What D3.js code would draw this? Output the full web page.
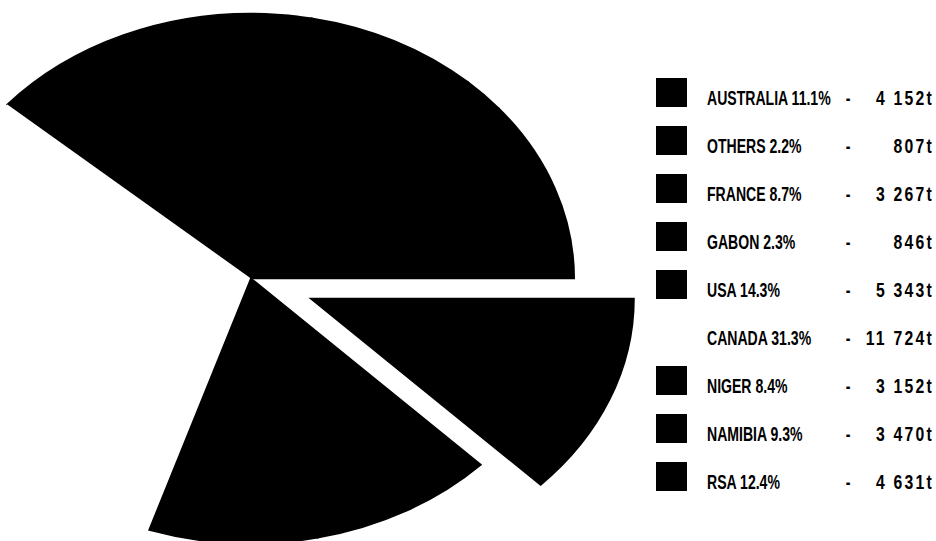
<!DOCTYPE html>
<html><head><meta charset="utf-8">
<script src="https://cdn.jsdelivr.net/npm/d3@7"></script>
<style>body{margin:0;background:#fff}svg{display:block}</style>
</head><body><svg id="chart" width="936" height="541"></svg>
<script>
// ---- data ----
const countries = ["AUSTRALIA", "OTHERS", "FRANCE", "GABON", "USA", "CANADA", "NIGER", "NAMIBIA", "RSA"];
const shares    = [11.1, 2.2, 8.7, 2.3, 14.3, 31.3, 8.4, 9.3, 12.4];
const tonnes    = ["4 152t", "807t", "3 267t", "846t", "5 343t", "11 724t", "3 152t", "3 470t", "4 631t"];
const fills     = ["#000", "#000", "#000", "#000", "#000", "#fff", "#000", "#000", "#000"];
const exploded  = ["RSA"];

const rows = countries.map((c, i) => ({ country: c, share: shares[i], tonnes: tonnes[i], fill: fills[i] }));

const svg = d3.select("#chart");

// ---- pie (scanned original is stretched horizontally) ----
const cx = 251, cy = 278.5, R = 265, sx = 1.219, explodeDist = 53;

const pie = d3.pie().sort(null).value(d => d.share)
  .startAngle(Math.PI / 2).endAngle(Math.PI / 2 - 2 * Math.PI);
const arc = d3.arc().innerRadius(0).outerRadius(R);

const pieG = svg.append("g").attr("transform", `translate(${cx},${cy}) scale(${sx},1)`);
pieG.selectAll("path").data(pie(rows)).join("path")
  .attr("d", arc)
  .attr("fill", d => d.data.fill)
  .attr("stroke", d => d.data.fill === "#fff" ? "none" : d.data.fill)
  .attr("stroke-width", 1.6)
  .attr("stroke-linejoin", "miter")
  .attr("transform", d => {
    if (!exploded.includes(d.data.country)) return null;
    const m = (d.startAngle + d.endAngle) / 2;
    return `translate(${Math.sin(m) * explodeDist},${-Math.cos(m) * explodeDist})`;
  });

// ---- legend ----
const font = "'Liberation Sans', Arial, sans-serif";
const y0 = 105, dy = 48, condense = 0.67, condenseNum = 0.75;
const leg = svg.append("g");
const row = leg.selectAll("g.row").data(rows).join("g")
  .attr("class", "row")
  .attr("transform", (d, i) => `translate(0,${y0 + i * dy})`);

row.filter(d => d.fill !== "#fff").append("rect")
  .attr("x", 656).attr("y", -27).attr("width", 31).attr("height", 29)
  .attr("fill", d => d.fill);

row.append("g").attr("transform", `translate(707,0) scale(${condense},1)`)
  .append("text")
  .attr("font-family", font).attr("font-weight", "bold").attr("font-size", 21)
  .attr("fill", "#000")
  .text(d => `${d.country} ${d.share.toFixed(1)}%`);

row.append("g").attr("transform", `translate(848,0) scale(${condense},1)`)
  .append("text")
  .attr("font-family", font).attr("font-weight", "bold").attr("font-size", 21)
  .attr("text-anchor", "middle").attr("fill", "#000")
  .text("-");

row.append("g").attr("transform", `translate(934,0) scale(${condenseNum},1)`)
  .append("text")
  .attr("font-family", font).attr("font-weight", "bold").attr("font-size", 21)
  .attr("text-anchor", "end").attr("letter-spacing", 3).attr("fill", "#000")
  .text(d => d.tonnes);
</script>
</body></html>
